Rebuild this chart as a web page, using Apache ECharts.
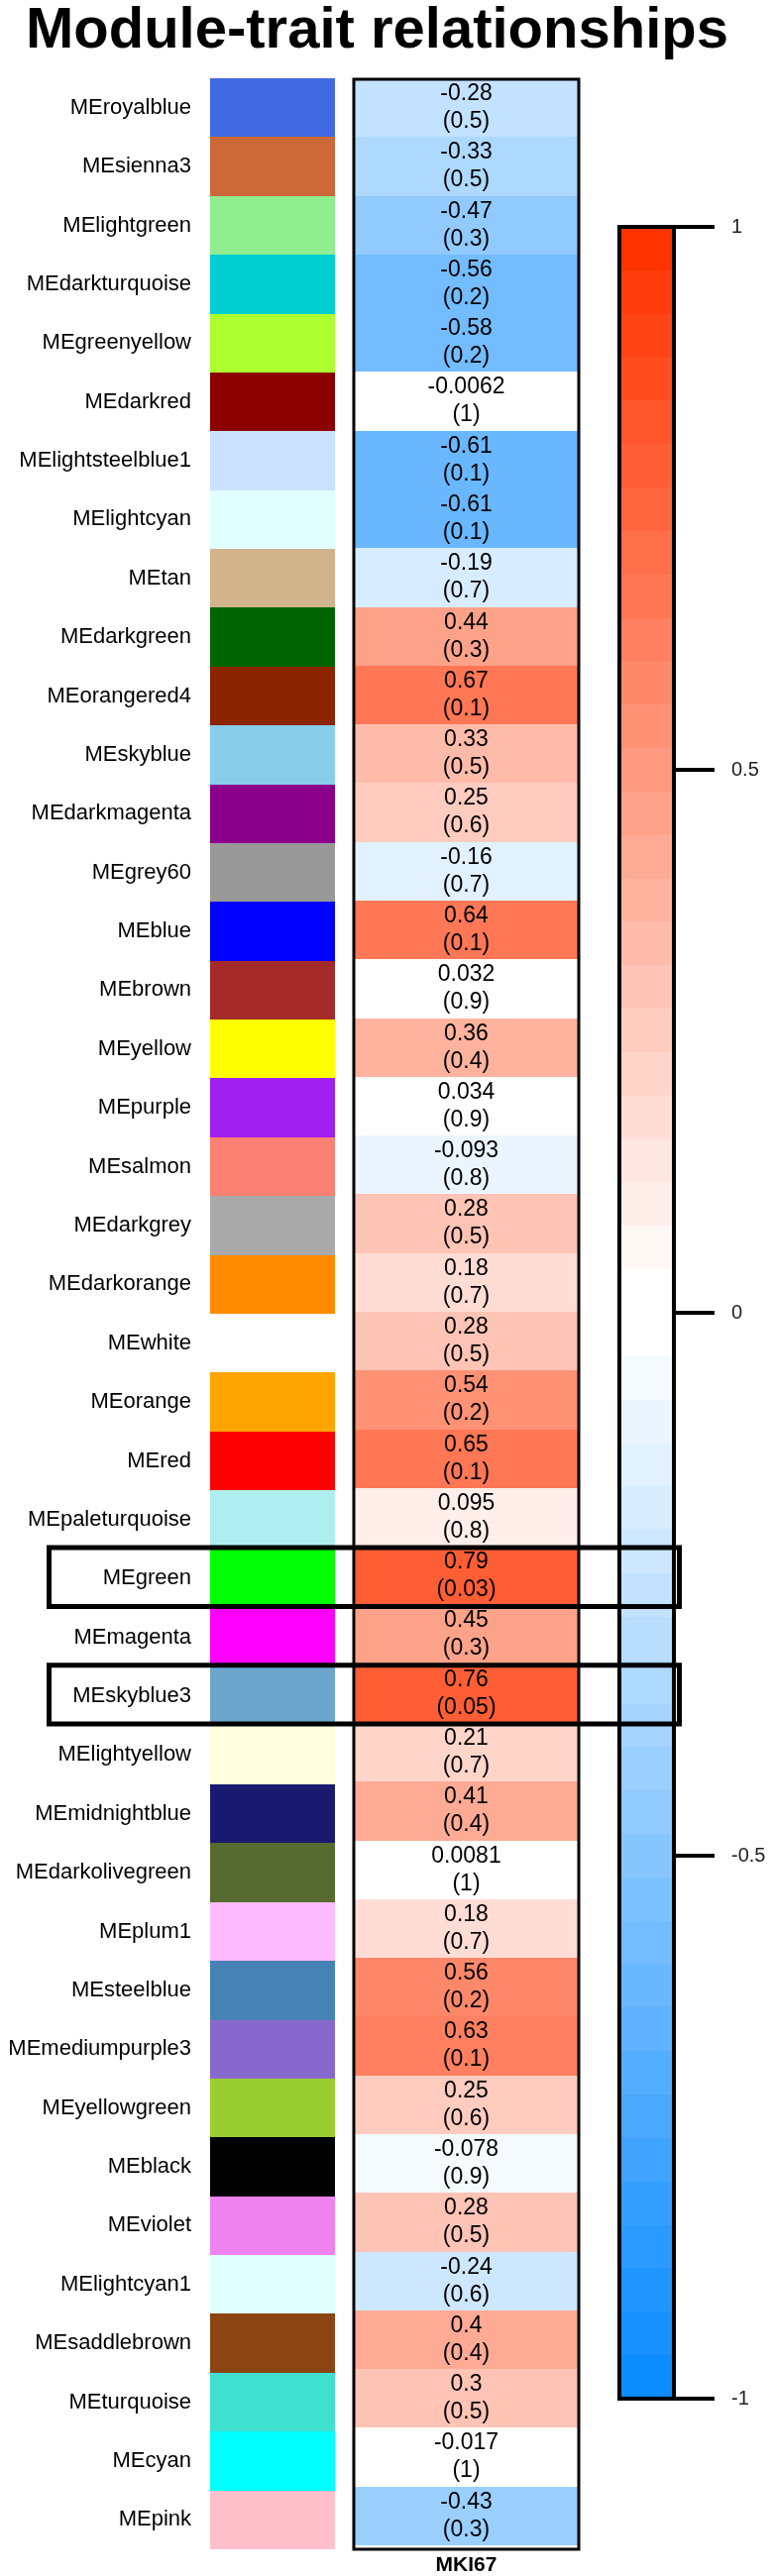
<!DOCTYPE html>
<html><head><meta charset="utf-8">
<script src="https://cdn.jsdelivr.net/npm/echarts@6/dist/echarts.min.js"></script>
<style>html,body{margin:0;padding:0;background:#fff}#c{width:780px;height:2600px}</style>
</head><body><div id="c"></div>
<script>
// ---------------- data ----------------
const modules = ['MEroyalblue','MEsienna3','MElightgreen','MEdarkturquoise','MEgreenyellow','MEdarkred',
  'MElightsteelblue1','MElightcyan','MEtan','MEdarkgreen','MEorangered4','MEskyblue','MEdarkmagenta',
  'MEgrey60','MEblue','MEbrown','MEyellow','MEpurple','MEsalmon','MEdarkgrey','MEdarkorange','MEwhite',
  'MEorange','MEred','MEpaleturquoise','MEgreen','MEmagenta','MEskyblue3','MElightyellow','MEmidnightblue',
  'MEdarkolivegreen','MEplum1','MEsteelblue','MEmediumpurple3','MEyellowgreen','MEblack','MEviolet',
  'MElightcyan1','MEsaddlebrown','MEturquoise','MEcyan','MEpink'];
// R colour of each module
const moduleColors = ['#4169E1','#CD6839','#90EE90','#00CED1','#ADFF2F','#8B0000',
  '#CAE1FF','#E0FFFF','#D2B48C','#006400','#8B2500','#87CEEB','#8B008B',
  '#999999','#0000FF','#A52A2A','#FFFF00','#A020F0','#FA8072','#A9A9A9','#FF8C00','#FFFFFF',
  '#FFA500','#FF0000','#AFEEEE','#00FF00','#FF00FF','#6CA6CD','#FFFFE0','#191970',
  '#556B2F','#FFBBFF','#4682B4','#8968CD','#9ACD32','#000000','#EE82EE',
  '#E0FFFF','#8B4513','#40E0D0','#00FFFF','#FFC0CB'];
const corValues = [-0.28,-0.33,-0.47,-0.56,-0.58,-0.0062,
  -0.61,-0.61,-0.19,0.44,0.67,0.33,0.25,
  -0.16,0.64,0.032,0.36,0.034,-0.093,0.28,0.18,0.28,
  0.54,0.65,0.095,0.79,0.45,0.76,0.21,0.41,
  0.0081,0.18,0.56,0.63,0.25,-0.078,0.28,
  -0.24,0.4,0.3,-0.017,-0.43];
const pValues = ['0.5','0.5','0.3','0.2','0.2','1',
  '0.1','0.1','0.7','0.3','0.1','0.5','0.6',
  '0.7','0.1','0.9','0.4','0.9','0.8','0.5','0.7','0.5',
  '0.2','0.1','0.8','0.03','0.3','0.05','0.7','0.4',
  '1','0.7','0.2','0.1','0.6','0.9','0.5',
  '0.6','0.4','0.5','1','0.3'];
const traits = ['MKI67'];
const highlighted = ['MEgreen','MEskyblue3'];
const colorbarTicks = [1, 0.5, 0, -0.5, -1];
const titleText = 'Module-trait relationships';

// ---------------- style ----------------
const FONT = '"Liberation Sans", Arial, Helvetica, sans-serif';
const BLUE_END = [13,140,255], WHITE = [255,255,255], RED_END = [255,51,0];
const N_COLORS = 50;
function mix(a,b,t){return 'rgb('+a.map((v,k)=>Math.round(v+(b[k]-v)*t)).join(',')+')';}
function paletteColor(i){
  const half = N_COLORS/2;
  if (i < half) return mix(BLUE_END, WHITE, i/(half-1));
  return mix(WHITE, RED_END, (i-half)/(half-1));
}
function valueColor(v){
  let i = Math.floor((v+1)/2*N_COLORS);
  i = Math.max(0, Math.min(N_COLORS-1, i));
  return paletteColor(i);
}
const L = {top:79, height:2494, swLeft:212, swWidth:126, hmLeft:357, hmWidth:227,
  cbLeft:625, cbWidth:55, cbTop:229, cbHeight:2192, boxLeft:49.5, boxRight:685.5};

function cellRect(api){
  const c = api.coord([api.value(0), api.value(1)]);
  const s = api.size([1,1]);
  const x0 = Math.round(c[0]-s[0]/2), x1 = Math.round(c[0]+s[0]/2);
  const y0 = Math.round(c[1]-s[1]/2), y1 = Math.round(c[1]+s[1]/2);
  return {x:x0, y:y0, width:x1-x0, height:y1-y0};
}

const chart = echarts.init(document.getElementById('c'), null, {renderer:'canvas'});
chart.setOption({
  animation:false,
  backgroundColor:'#fff',
  textStyle:{fontFamily:FONT},
  title:{text:titleText, left:21, top:-2,
    textStyle:{fontSize:58, fontWeight:'bold', color:'#000', fontFamily:FONT}},
  grid:[
    {left:L.swLeft, width:L.swWidth, top:L.top, height:L.height},
    {left:L.hmLeft, width:L.hmWidth, top:L.top, height:L.height},
    {left:L.cbLeft, width:L.cbWidth, top:L.cbTop, height:L.cbHeight}
  ],
  xAxis:[
    {gridIndex:0, type:'category', data:['module'], show:false},
    {gridIndex:1, type:'category', data:traits, position:'bottom',
      axisLine:{show:false}, axisTick:{show:false},
      axisLabel:{fontSize:21, fontWeight:'bold', color:'#000', margin:10, fontFamily:FONT}},
    {gridIndex:2, type:'value', min:0, max:1, show:false}
  ],
  yAxis:[
    {gridIndex:0, type:'category', data:modules, inverse:true,
      axisLine:{show:false}, axisTick:{show:false}, splitLine:{show:false},
      axisLabel:{interval:0, fontSize:22, color:'#000', margin:19, fontFamily:FONT}},
    {gridIndex:1, type:'category', data:modules, inverse:true, show:false},
    {gridIndex:2, type:'value', min:-1, max:1, interval:0.5, position:'right',
      axisLine:{show:true, lineStyle:{width:4, color:'#000'}}, splitLine:{show:false},
      axisTick:{show:true, inside:false, length:41, lineStyle:{width:4, color:'#000'}},
      axisLabel:{show:true, margin:58, fontSize:20, color:'#222', fontFamily:FONT}}
  ],
  series:[
    {type:'custom', xAxisIndex:0, yAxisIndex:0,
      data: modules.map((m,i)=>[0,i]),
      renderItem(params, api){
        return {type:'rect', shape:cellRect(api), style:{fill:moduleColors[params.dataIndex]}};
      }},
    {type:'custom', xAxisIndex:1, yAxisIndex:1,
      data: modules.map((m,i)=>[0,i,corValues[i]]),
      renderItem(params, api){
        const i = params.dataIndex;
        return {type:'rect', shape:cellRect(api), style:{fill:valueColor(corValues[i])},
          textContent:{style:{text:String(corValues[i])+'\n('+pValues[i]+')',
            fontSize:23, lineHeight:28, fill:'#000', fontFamily:FONT, align:'center', verticalAlign:'middle'}},
          textConfig:{position:'inside'}};
      }},
    {type:'custom', xAxisIndex:2, yAxisIndex:2, z:1,
      data:[[0,-1,1]],
      renderItem(params, api){
        const children = [];
        const step = 2/N_COLORS;
        for (let k=0;k<N_COLORS;k++){
          const lo = -1 + k*step, hi = lo + step;
          const p1 = api.coord([0, hi]), p2 = api.coord([1, lo]);
          const y0 = Math.round(p1[1]), y1 = Math.round(p2[1]);
          children.push({type:'rect', shape:{x:p1[0], y:y0, width:p2[0]-p1[0], height:y1-y0},
            style:{fill:paletteColor(k)}});
        }
        return {type:'group', children};
      }}
  ]
});

// frames and highlight boxes
const band = L.height/modules.length;
const graphics = [
  {type:'rect', z:100, shape:{x:L.hmLeft, y:L.top+1, width:L.hmWidth, height:L.height-1},
    style:{fill:'none', stroke:'#000', lineWidth:3}},
  {type:'rect', z:100, shape:{x:L.cbLeft, y:L.cbTop, width:L.cbWidth, height:L.cbHeight},
    style:{fill:'none', stroke:'#000', lineWidth:4}}
];
// tick marks of the colour bar, placed through the colour-bar axis
colorbarTicks.forEach(v=>{
  const p = chart.convertToPixel({xAxisIndex:2, yAxisIndex:2}, [1, v]);
  graphics.push({type:'line', z:100, shape:{x1:p[0], y1:p[1], x2:p[0]+41, y2:p[1]},
    style:{stroke:'#000', lineWidth:4}});
});
highlighted.forEach(name=>{
  const cy = chart.convertToPixel({yAxisIndex:1}, name);
  graphics.push({type:'rect', z:101,
    shape:{x:L.boxLeft, y:cy-band/2+1, width:L.boxRight-L.boxLeft, height:band},
    style:{fill:'none', stroke:'#000', lineWidth:5}});
});
chart.setOption({graphic:graphics});
</script></body></html>
